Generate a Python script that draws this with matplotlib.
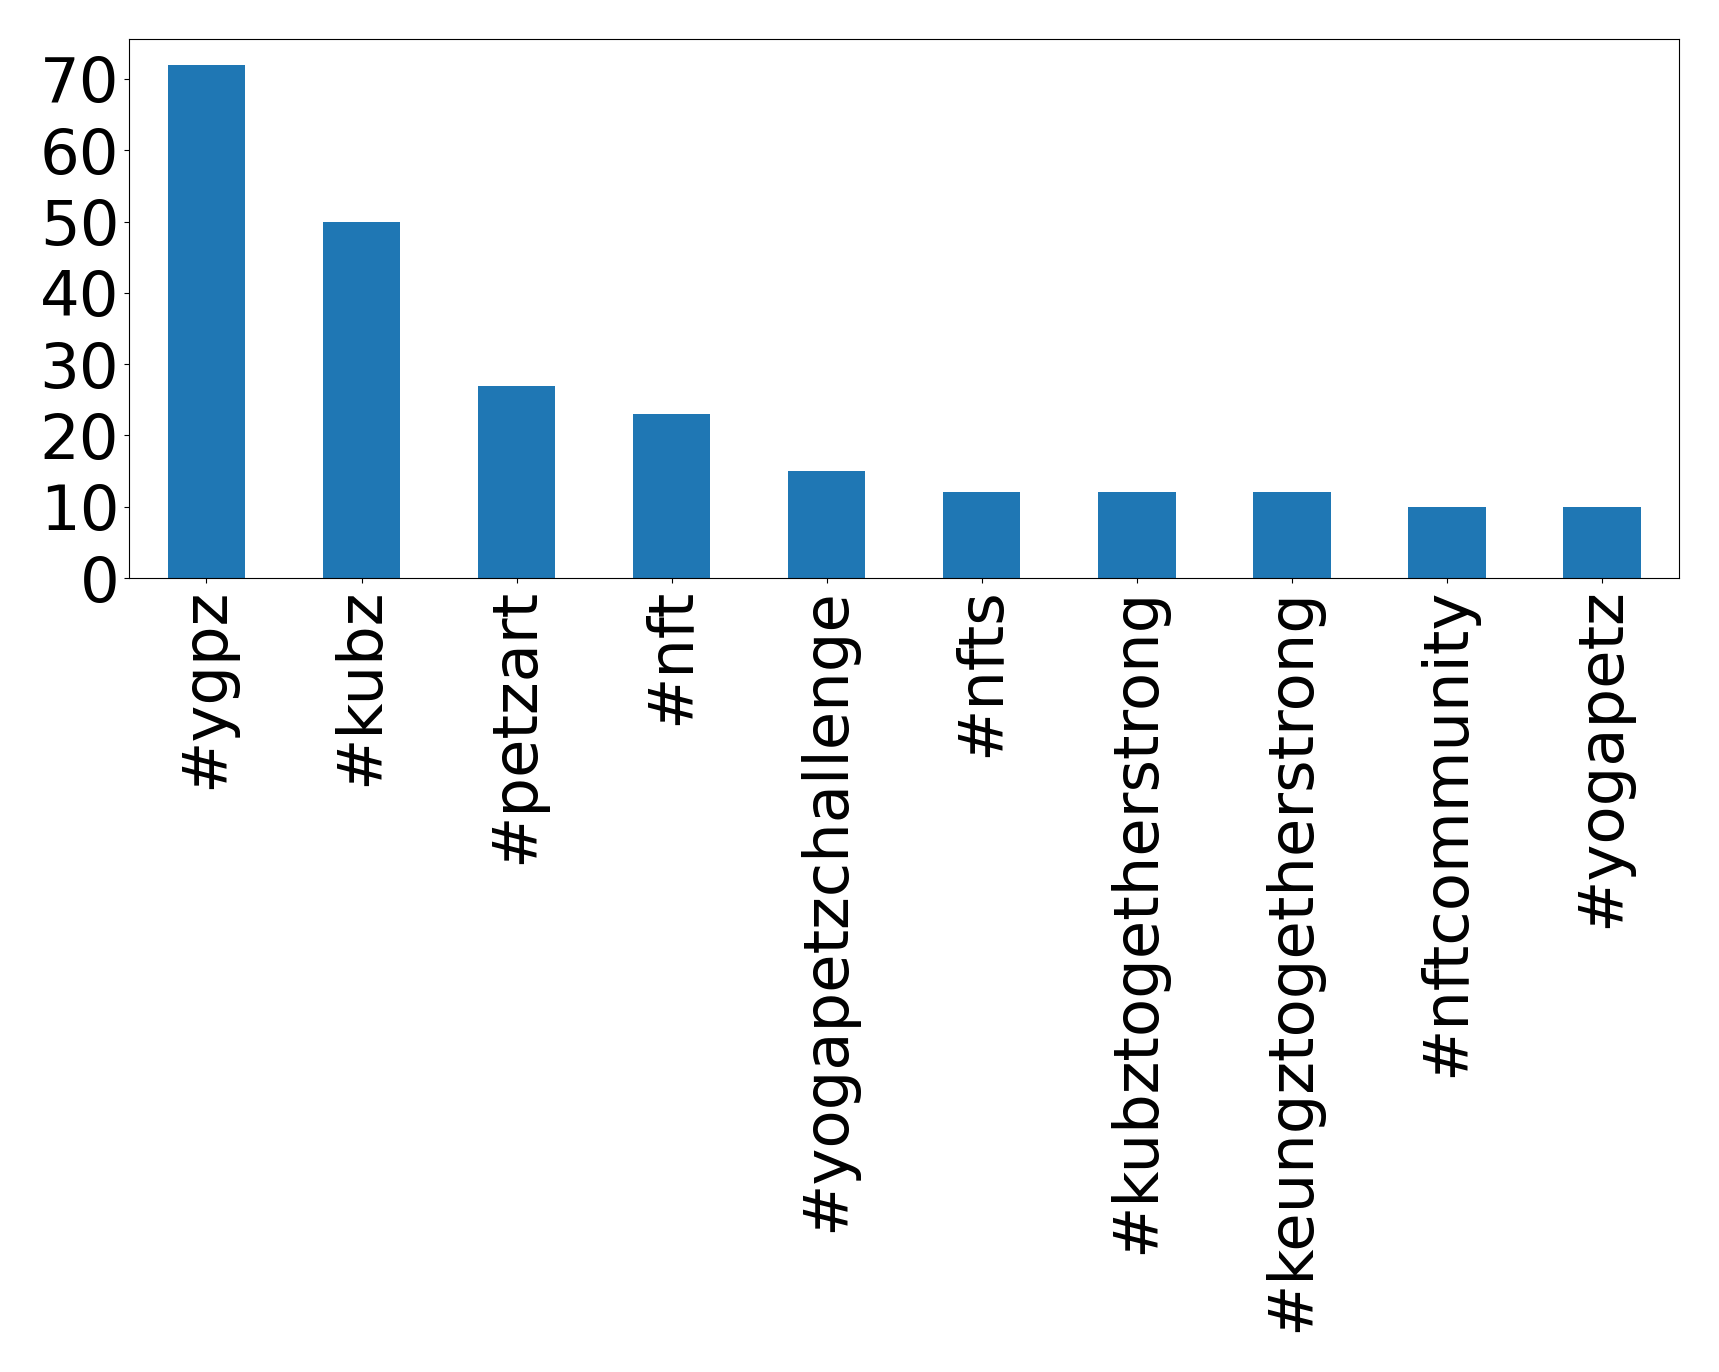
import matplotlib
matplotlib.use("Agg")
import matplotlib.pyplot as plt
import numpy as np

hashtags = ["#ygpz", "#kubz", "#petzart", "#nft", "#yogapetzchallenge", "#nfts",
            "#kubztogetherstrong", "#keungztogetherstrong", "#nftcommunity", "#yogapetz"]
counts = [72, 50, 27, 23, 15, 12, 12, 12, 10, 10]
yticks = [0, 10, 20, 30, 40, 50, 60, 70]

fig = plt.figure(figsize=(17.19, 13.72), dpi=100)
ax = fig.add_axes([0.075, 0.5787, 0.902, 0.3929])

x = np.arange(len(hashtags))
ax.bar(x, counts, width=0.5, color="#1f77b4")
ax.set_xlim(-0.5, len(hashtags) - 0.5)
ax.set_ylim(0, max(counts) * 1.05)
ax.set_yticks(yticks)
ax.set_xticks(x)
ax.set_xticklabels(hashtags, rotation=90)
ax.tick_params(labelsize=45)

fig.savefig("out.png", dpi=100)
